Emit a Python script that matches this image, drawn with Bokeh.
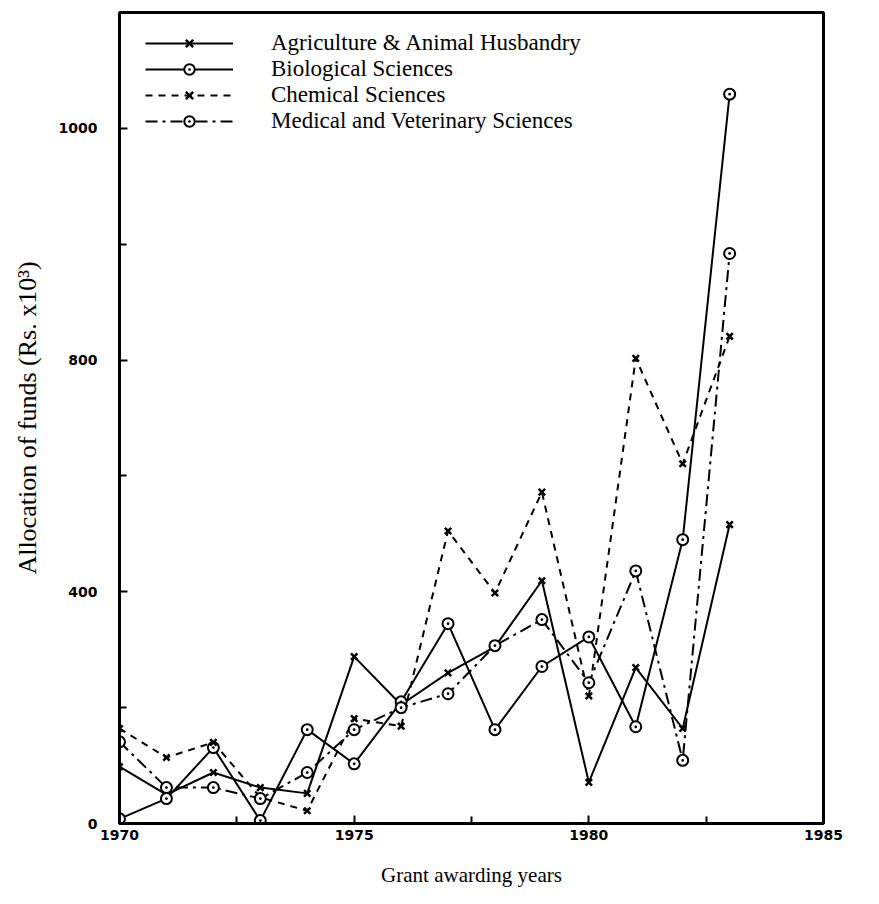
from bokeh.plotting import figure
from bokeh.models import Range1d, FixedTicker, Legend, LegendItem
from bokeh.embed import file_html
from bokeh.resources import INLINE

years = [1970, 1971, 1972, 1973, 1974, 1975, 1976, 1977, 1978, 1979, 1980, 1981, 1982, 1983]
agriculture = [98, 50, 88, 62, 52, 288, 205, 260, 305, 419, 71, 269, 164, 516]
biological = [8, 43, 131, 5, 162, 103, 210, 345, 162, 271, 322, 167, 490, 1259]
chemical = [164, 114, 140, 45, 22, 181, 168, 505, 398, 572, 220, 803, 621, 841]
medical = [141, 62, 62, 43, 88, 162, 200, 224, 307, 352, 243, 436, 109, 984]

series_names = ["Agriculture & Animal Husbandry", "Biological Sciences",
                "Chemical Sciences", "Medical and Veterinary Sciences"]

x_ticks = [1970, 1975, 1980, 1985]
x_minor = [1972.5, 1977.5, 1982.5]
y_ticks = [0, 400, 800, 1200]
y_minor = [200, 600, 1000]
y_tick_labels = {0: "0", 400: "400", 800: "800", 1200: "1000"}

x_title = "Grant awarding years"
y_title = "Allocation of funds (Rs. x10\u00b3)"

p = figure(width=866, height=892, x_range=Range1d(1970, 1985), y_range=Range1d(0, 1400),
           output_backend="svg", toolbar_location=None,
           min_border_left=119, min_border_right=43, min_border_top=12, min_border_bottom=69)

p.background_fill_color = "white"
p.border_fill_color = "white"
p.outline_line_color = "black"
p.outline_line_width = 3
p.xgrid.visible = False
p.ygrid.visible = False

serif = "Liberation Serif"
tickfont = "DejaVu Sans"

p.xaxis.ticker = FixedTicker(ticks=x_ticks, minor_ticks=x_minor)
p.yaxis.ticker = FixedTicker(ticks=y_ticks, minor_ticks=y_minor)
p.yaxis.major_label_overrides = y_tick_labels

for ax in (p.xaxis, p.yaxis):
    ax.axis_line_width = 3
    ax.axis_line_color = "black"
    ax.major_tick_in = 8
    ax.major_tick_out = 0
    ax.minor_tick_in = 7
    ax.minor_tick_out = 0
    ax.major_tick_line_width = 2
    ax.minor_tick_line_width = 2
    ax.major_tick_line_color = "black"
    ax.minor_tick_line_color = "black"
    ax.major_label_text_font = tickfont
    ax.major_label_text_font_style = "bold"
    ax.major_label_text_font_size = "14px"
    ax.major_label_text_color = "black"
    ax.axis_label_text_font = serif
    ax.axis_label_text_font_style = "normal"
    ax.axis_label_text_color = "black"

p.xaxis.axis_label = x_title
p.xaxis.axis_label_text_font_size = "21px"
p.yaxis.axis_label = y_title
p.yaxis.axis_label_text_font_size = "26px"
p.xaxis.major_label_standoff = 6
p.xaxis.axis_label_standoff = 20
p.yaxis.major_label_standoff = 22
p.yaxis.axis_label_standoff = 14

lw = 2
r_agri_l = p.line(years, agriculture, line_color="black", line_width=lw)
r_bio_l = p.line(years, biological, line_color="black", line_width=lw)
r_chem_l = p.line(years, chemical, line_color="black", line_width=lw, line_dash="7 6")
r_med_l = p.line(years, medical, line_color="black", line_width=lw, line_dash="12 5 3 5")

r_agri_m = p.scatter(years, agriculture, marker="x", size=9, line_color="black", line_width=2.5)
r_bio_m = p.scatter(years, biological, marker="circle_dot", size=11, line_color="black",
                    line_width=2, fill_color="white")
r_chem_m = p.scatter(years, chemical, marker="x", size=9, line_color="black", line_width=2.5)
r_med_m = p.scatter(years, medical, marker="circle_dot", size=11, line_color="black",
                    line_width=2, fill_color="white")

legend = Legend(items=[
    LegendItem(label=series_names[0], renderers=[r_agri_l, r_agri_m]),
    LegendItem(label=series_names[1], renderers=[r_bio_l, r_bio_m]),
    LegendItem(label=series_names[2], renderers=[r_chem_l, r_chem_m]),
    LegendItem(label=series_names[3], renderers=[r_med_l, r_med_m]),
], location=(26, 689))
legend.glyph_width = 88
legend.glyph_height = 26
legend.label_height = 26
legend.spacing = 0
legend.padding = 0
legend.margin = 0
legend.label_standoff = 38
legend.border_line_alpha = 0
legend.background_fill_alpha = 0
legend.label_text_font = serif
legend.label_text_font_size = "23px"
legend.label_text_color = "black"
p.add_layout(legend)

open("out.html", "w").write(file_html(p, INLINE))
